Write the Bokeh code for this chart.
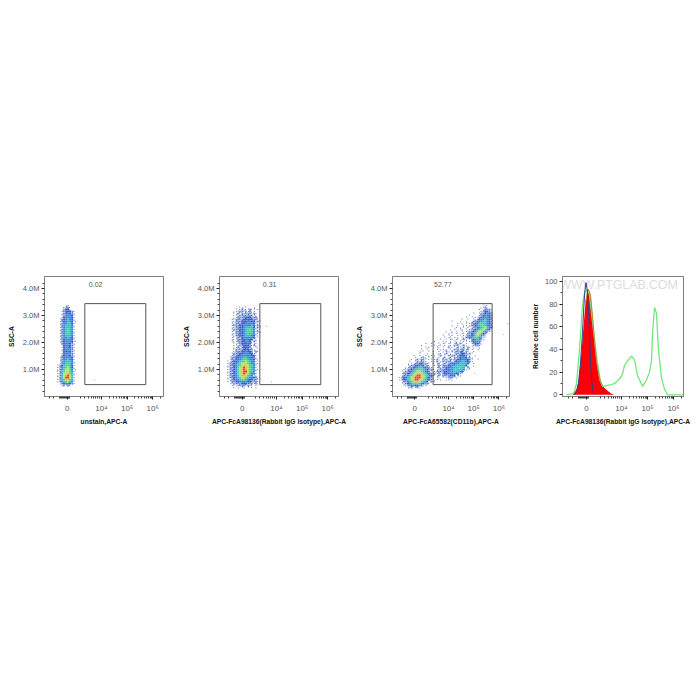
from bokeh.plotting import figure
from bokeh.layouts import row, column
from bokeh.models import FixedTicker, Label, Spacer
from bokeh.embed import file_html
from bokeh.resources import INLINE

# ---- texts and ticks
x_titles = ["unstain,APC-A", "APC-FcA98136(Rabbit IgG Isotype),APC-A",
            "APC-FcA65582(CD11b),APC-A", "APC-FcA98136(Rabbit IgG Isotype),APC-A"]
gate_pct = ["0.02", "0.31", "52.77"]
x_major = [0, 35, 61, 87]
x_labels = ["0", "10\u2074", "10\u2075", "10\u2076"]
x_minor = [-18, -14, -8, -7, -6, -5, -4, -3, -2, -1, 1, 2, 14, 18, 22, 25, 27, 29, 31, 33,
           43, 47, 50, 53, 55, 57, 58.5, 60, 69, 73, 76, 79, 81, 83, 84.5, 86, 95]
ssc_major = [1, 2, 3, 4]
ssc_minor = [0.2, 0.4, 0.6, 0.8, 1.2, 1.4, 1.6, 1.8, 2.2, 2.4, 2.6, 2.8, 3.2, 3.4, 3.6, 3.8, 4.2]
hist_major = [0, 20, 40, 60, 80, 100]
hist_minor = [10, 30, 50, 70, 90]

# ---- density: one char per cell, top row first
levels = {"1": "#94aeea", "2": "#3f66d2", "3": "#2f86d8", "4": "#30bcc8",
          "5": "#3ed88a", "6": "#a8e650", "7": "#f2b43a", "8": "#e2402a"}
SPECK = "#2f45b0"

density_unstain = [
    "    ..    ", "   .11.   ", "   122.   ", "  .12221. ", "  .12321. ", "  .13332. ", "  .23332. ",
    " .123432. ", " .123432..", " .133442. ", " .134443. ", " .134443. ", " .134543. ", " .134543. ",
    " .134543. ", " .134443. ", " .133432. ", " .123332. ", " .123332..", "  123321. ", "  .23321. ",
    "  .23321. ", "  .23331. ", "  .22321. ", "  .23331. ", "  123321. ", " .123332. ", " .133432. ",
    " .134443. ", " .134543. ", ".1245542. ", ".1345642. ", ".1356653..", ".1456653. ", ".1466754. ",
    ".1467864. ", ".1468864. ", ".1457754. ", ".1345643. ", " .123321. ", "  .1.1.   ",
]
density_isotype = [
    "      .. .   .    ", "    . .1...1.. .  ", "   ...11.1.1..    ", "   ..1.1.111.1.   ",
    "   ...1111111..   ", "   ..1111222111.  ", "  ..11112222211.  ", "  ..1112223322.1. ",
    "  ..1112233332..  ", "  .11122333342.1. ", "  ..1122344442.1. ", "  .11122345543..  ",
    "  ..1122345543.1. ", "  ..1122345443..  ", "  ..1122344432..  ", "  ...112333332.   ",
    "  ...11223322..   ", "  ...1122332.1.   ", "   ...122232...   ", "   ...112221.1.   ",
    "   ..1.12221. ..  ", "   .1.1122211.    ", "   .111223221.1.  ", "  .1112233322..   ",
    "  .11223333322.   ", " .112233443322.   ", " .112334554332..  ", "..122345565433.   ",
    ".1123456665433..  ", ".1123456766543.   ", ".1123567876543.   ", ".1123567876543..  ",
    ".1123567886543.   ", ".1123567876433.   ", ".112346776543..   ", ".11234567543321.  ",
    "..1233455432211.  ", "..1122333322111.  ", " ..1111222111.1.  ", "  ....111.1.. .   ",
    "   . . .. . . .   ",
]
density_cd11b = [
    "                                            .",
    "                                           . .",
    "                                          ..1.",
    "                                         . .111.",
    "                                          .1221.",
    "                                      .  .112321.",
    "                                    .    .123321.",
    "                                  .  . ..1233321.",
    "                                .  .  ..12334321.",
    "                           .   .  .  .1123344321.",
    "                              . . . .11234544321.",
    "                           .  .  .. .11234554321.",
    "                             . . . . .1123456432.",
    "                          . .  .. . .1123456532.",
    "                        .  . .  . ..1123566431.",
    "                         . . .. .. 1123566421.",
    "                      .  . .  .. ..112356531.",
    "                       . .. . . ..112345431.",
    "                     .  . .. .. .1. .123431.",
    "                  .   . . . .. . .. .12331.",
    "             .  .   . .. .. .1.1. .  .1221.",
    "           .    . . .. . .. 1.1 .1.  ..11.",
    "             . .   .. .  1 . .1..1 1. .  .",
    "           .  .    . .. . . 1.1.11.1 .  .",
    "          . .  . .  . . 1. 1.1112.1.  .",
    "          .   .  .  .. .1 . .111221.1.",
    "       .  .  . .. . .1 . 1.11.12221..  .",
    "        .  .1. . .  . .1 .1 1.12332.1.",
    "      . .1.11. .. .1. 1.1.1.112233321.  .",
    "     .  .1.11.  . .1 .1.111.123344321.",
    "    . ..112211.. . .1 .1.11223344442. .",
    "    ..1122332.1.  ..1.1112233444442.  .",
    "   ..11233443211.  .1.112233444544 1.",
    "  ..1123445543211. ..1112233444443. .",
    " ..1123456654321. .11112233344432.",
    " .112345677654321.1.1.122233322..",
    " .1134567887654321..1.1111222 1.",
    ".1234567888765321. .. . .111..",
    ".1234567887654321. . .  .. .",
    " .1134567765432 1..",
    " ..123455543211.",
    "  ..11232211..",
    "    ..1 .1.",
]
stray_x = [[28], [30, 12, 25], [96, 92, 80, 62, 58, 18]]
stray_y = [[0.6], [0.55, 1.45, 2.6], [2.7, 2.3, 0.9, 0.85, 2.6, 2.0]]

# ---- histogram overlays (x channel, % of max)
blue_x = [-12, -10, -8, -6, -4, -3, -2, -1, -0.5, 0, 1, 2, 3, 4, 5, 6, 7, 9]
blue_y = [0, 3, 10, 28, 55, 72, 88, 97, 99, 97, 90, 72, 55, 30, 14, 6, 2, 0]
red_x = [-14, -12, -10, -8, -7, -5, -3, -1, 1, 2, 4, 6, 8, 10, 13, 16, 18, 22, 25, 28]
red_y = [0, 2, 5, 12, 20, 38, 60, 81, 91, 93, 88, 68, 46, 30, 13, 8, 6, 3, 1, 0]
olive_x = [-1, 1, 2, 4, 6, 8, 10, 13, 16]
olive_y = [81, 92, 93, 88, 70, 48, 30, 14, 8]
green_x = [-20, -14, -12, -10, -7, -4, -2, 0, 1, 3, 5, 8, 11, 14, 16, 20, 25, 28, 33, 36, 38, 42, 45, 48, 51,
           56, 60, 63, 65, 66, 68, 70, 72, 75, 78, 81, 97]
green_y = [0, 1, 3, 10, 40, 79, 90, 92, 93, 88, 72, 50, 28, 12, 7.5, 8, 9, 10, 14, 18, 26, 31, 34, 31, 17,
           7.4, 13, 20, 30, 54, 77, 72, 39, 15, 5, 0, 0]

GREY = "#7f7f7f"
FONT = "Liberation Sans"


def base(title, left, right, xr, yr, ymaj, ymin, ylabel, overrides):
    p = figure(width=left + 121 + right, height=157, x_range=xr, y_range=yr, output_backend="svg",
               toolbar_location=None, min_border_left=left, min_border_right=right,
               min_border_top=1, min_border_bottom=36, outline_line_color=GREY)
    p.grid.visible = False
    p.xaxis.ticker = FixedTicker(ticks=x_major, minor_ticks=x_minor)
    p.yaxis.ticker = FixedTicker(ticks=ymaj, minor_ticks=ymin)
    p.xaxis.major_label_overrides = dict(zip(x_major, x_labels))
    p.yaxis.major_label_overrides = overrides
    for ax in (p.xaxis[0], p.yaxis[0]):
        ax.axis_line_color = GREY
        ax.major_tick_line_color = "#222222"
        ax.minor_tick_line_color = "#444444"
        ax.major_tick_out = 3
        ax.major_tick_in = 0
        ax.minor_tick_out = 2
        ax.minor_tick_in = 0
        ax.major_label_text_font = FONT
        ax.major_label_text_font_size = "7.5px"
        ax.major_label_text_color = "#555555"
        ax.axis_label_text_font = FONT
        ax.axis_label_text_font_size = "6.7px"
        ax.axis_label_text_font_style = "bold"
        ax.axis_label_text_color = "#111111"
    p.xaxis.major_label_text_font_size = "8px"
    p.xaxis.axis_label = title
    p.xaxis.major_label_standoff = 4
    p.xaxis.axis_label_standoff = 2
    p.yaxis.axis_label = ylabel
    p.yaxis.major_label_standoff = 2
    p.yaxis.axis_label_standoff = 5
    return p


def density(p, rows, x0, top):
    for ch, col in levels.items():
        xs, ys = [], []
        for r, line in enumerate(rows):
            for c, v in enumerate(line):
                if v == ch:
                    xs.append(x0 + 2 * c + 1)
                    ys.append(top - (2 * r + 1) / 27)
        p.rect(xs, ys, width=2, height=2 / 27, fill_color=col, line_color=None)
    # single events: one-pixel specks, placed inside their cell by row and column
    sx, sy = [], []
    for r, line in enumerate(rows):
        for c, v in enumerate(line):
            if v in ".12":
                sx.append(x0 + 2 * c + 0.5 + ((r * 3 + c * 5) % 3) * 0.5)
                sy.append(top - (2 * r + 0.5 + ((r * 7 + c * 2) % 3) * 0.5) / 27)
    p.rect(sx, sy, width=1, height=1 / 27, fill_color=SPECK, fill_alpha=0.75, line_color=None)


ssc_labels = {1: "1.0M", 2: "2.0M", 3: "3.0M", 4: "4.0M"}
panels = [(38, 16, (-23, 98), density_unstain, -10, 3.407, (18, 80), 29),
          (38, 14, (-23, 98), density_isotype, -15, 3.333, (18, 80), 28),
          (36, 17, (-23, 98), density_cd11b, -16, 3.48, (19, 80), 29)]
figs = []
for i, (left, right, xr, rows, x0, top, gate, pct_x) in enumerate(panels):
    p = base(x_titles[i], left, right, xr, (0, 4.444), ssc_major, ssc_minor, "SSC-A", ssc_labels)
    density(p, rows, x0, top)
    p.rect(stray_x[i], stray_y[i], width=1, height=1 / 27, fill_color="#9ab0e0", line_color=None)
    p.quad(left=[gate[0]], right=[gate[1]], bottom=[0.44], top=[3.44], fill_color=None,
           line_color="#555555", line_width=1)
    p.add_layout(Label(x=pct_x, y=4.15, text=gate_pct[i], text_font=FONT, text_font_size="7px",
                       text_color="#555555", text_align="center", text_baseline="middle"))
    figs.append(p)

h = base(x_titles[3], 36, 8, (-24, 97), (-1.5, 104.4), hist_major, hist_minor, "Relative cell number",
         {v: str(v) for v in hist_major})
h.yaxis.axis_label_standoff = 3
h.add_layout(Label(x=-27, y=97, text="WWW.PTGLAB.COM", text_font=FONT, text_font_size="12.3px",
                   text_color="#dcdcdc", text_align="left", text_baseline="middle", level="underlay"))
h.varea(red_x, y1=[0] * len(red_x), y2=red_y, fill_color="#fb0008")
h.line(green_x, green_y, line_color="#72e87c", line_width=1.3)
h.line(olive_x, olive_y, line_color="#b98a30", line_width=1)
h.line(blue_x, blue_y, line_color="#2c3f8c", line_width=1)
figs.append(h)

page = column(Spacer(height=275), row(Spacer(width=4), *figs, spacing=0), spacing=0)
open("out.html", "w").write(file_html(page, INLINE))
